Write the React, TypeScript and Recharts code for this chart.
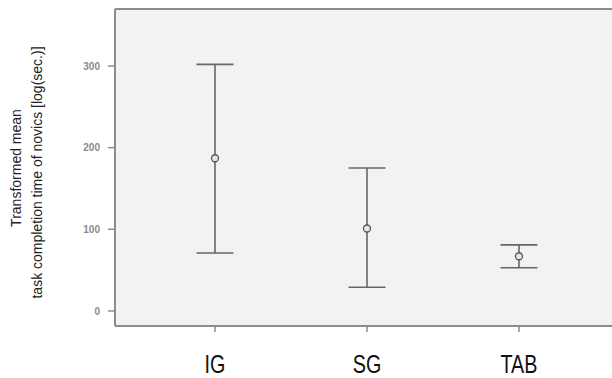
import React from "react";
import {
  ComposedChart,
  Scatter,
  ErrorBar,
  XAxis,
  YAxis,
  CartesianGrid,
  ReferenceLine,
} from "recharts";

const categories = ["IG", "SG", "TAB"];
const means = [187, 101, 67];
const lowers = [71, 29, 53];
const uppers = [302, 175, 81];
const yTicks = [0, 100, 200, 300];

const data = categories.map((c, i) => ({
  x: i + 1,
  mean: means[i],
  err: [means[i] - lowers[i], uppers[i] - means[i]],
}));

const FRAME = "#8c8c8c";

const MeanDot = (props: any) => {
  const { cx, cy } = props;
  return <circle cx={cx} cy={cy} r={3.5} fill="#e6e6e6" stroke="#555" strokeWidth={1.3} />;
};

const XTick = (props: any) => {
  const { x, y, payload } = props;
  return (
    <g transform={`translate(${x}, ${y}) scale(0.76, 1)`}>
      <text
        x={0}
        y={0}
        dy="0.71em"
        textAnchor="middle"
        fontSize={26}
        fill="#111"
        fontFamily="'Liberation Sans', Arial, sans-serif"
      >
        {categories[payload.value - 1]}
      </text>
    </g>
  );
};

const YLabel = (props: any) => {
  const vb = props.viewBox || {};
  const cy = vb.y + vb.height / 2;
  return (
    <g fontFamily="'Liberation Sans', Arial, sans-serif" fontSize={14} fill="#222">
      <text x={0} y={0} textAnchor="middle" transform={`translate(21, ${cy + 0.5}) rotate(-90)`}>
        Transformed mean
      </text>
      <text x={0} y={0} textAnchor="middle" transform={`translate(42, ${cy + 5}) rotate(-90)`}>
        task completion time of novics [log(sec.)]
      </text>
    </g>
  );
};

export default function App() {
  return (
    <div style={{ position: "absolute", left: 0, top: 0, width: 612, height: 378, background: "#fff" }}>
      <ComposedChart
        width={612}
        height={378}
        data={data}
        margin={{ top: 9, right: 0, bottom: 0, left: 0 }}
      >
        <CartesianGrid horizontal={false} vertical={false} fill="#f2f2f2" />
        <XAxis
          type="number"
          dataKey="x"
          domain={[0.342, 3.612]}
          ticks={[1, 2, 3]}
          allowDataOverflow
          height={52}
          tickSize={6}
          tickMargin={23}
          axisLine={{ stroke: FRAME, strokeWidth: 2 }}
          tickLine={{ stroke: FRAME, strokeWidth: 1.5 }}
          tick={<XTick />}
        />
        <YAxis
          type="number"
          domain={[-18.4, 369.8]}
          ticks={yTicks}
          allowDataOverflow
          width={115}
          tickSize={7}
          tickMargin={8}
          axisLine={{ stroke: FRAME, strokeWidth: 2 }}
          tickLine={{ stroke: FRAME, strokeWidth: 1.5 }}
          tick={{ fill: "#8a8a8a", fontSize: 10, fontWeight: "bold", fontFamily: "'Liberation Sans', Arial, sans-serif" }}
          label={<YLabel />}
        />
        <ReferenceLine y={369.8} stroke={FRAME} strokeWidth={2} ifOverflow="extendDomain" />
        <Scatter dataKey="mean" shape={<MeanDot />} isAnimationActive={false}>
          <ErrorBar dataKey="err" direction="y" width={18.5} stroke="#666" strokeWidth={1.6} />
        </Scatter>
      </ComposedChart>
    </div>
  );
}
